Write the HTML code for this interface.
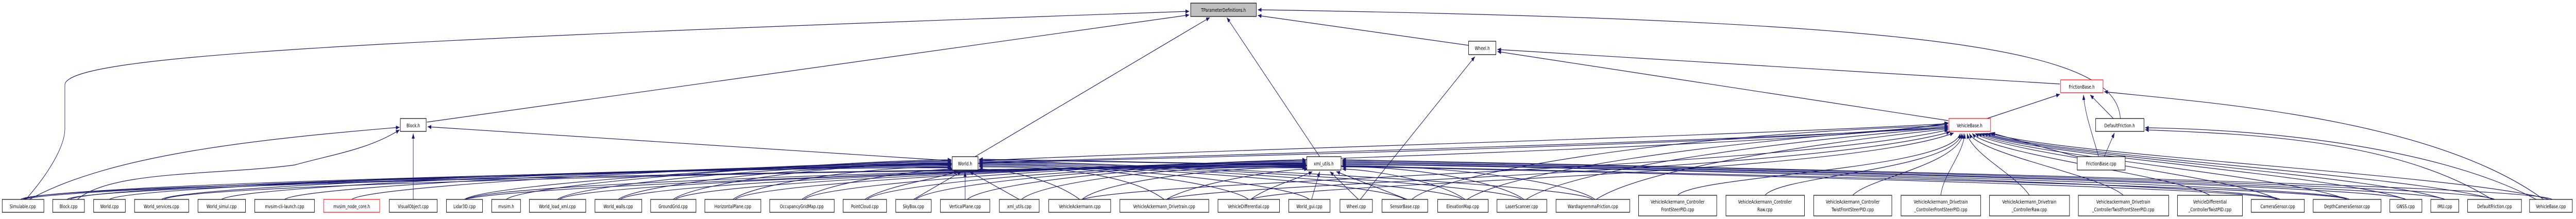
<!DOCTYPE html>
<html><head><meta charset="utf-8"><style>
html,body{margin:0;padding:0;background:#fff;width:100%;height:100%;overflow:hidden}
svg{display:block;overflow:hidden;width:100vw;height:100vh}
text{font-family:"DejaVu Sans","Liberation Sans",sans-serif;font-size:10px;fill:#000;text-anchor:middle}
.e{fill:none;stroke:#191970;stroke-width:1.2;marker-end:url(#a)}
.n{fill:#fff;stroke:#000;stroke-width:1.2}
.r{fill:#fff;stroke:#f00;stroke-width:1.2}
</style></head><body>
<svg viewBox="0 0 6988 425" preserveAspectRatio="none" xmlns="http://www.w3.org/2000/svg">
<defs><marker id="a" markerUnits="userSpaceOnUse" markerWidth="12" markerHeight="10" refX="10" refY="4" orient="auto"><path d="M0 0L10 4L0 8z" fill="#191970"/></marker></defs>
<g>
<path class="e" d="M70 387C140 330 176 280 176 250L176 165C176 110 900 80 3226 22"/>
<path class="e" d="M1158 237L3226 29"/>
<path class="e" d="M2645 304L3282 34"/>
<path class="e" d="M3580 304L3328 34"/>
<path class="e" d="M3984 88L3412 30"/>
<path class="e" d="M5752 230C5740 100 5300 40 3412 19"/>
<path class="e" d="M2581 312L1160 246"/>
<path class="e" d="M80 387C300 300 700 270 1084 247"/>
<path class="e" d="M210 387C300 330 600 340 800 320C900 300 1000 290 1084 252"/>
<path class="e" d="M1121 387L1121 259"/>
<path class="e" d="M3690 387L4001 110"/>
<path class="e" d="M5588 163L4062 96"/>
<path class="e" d="M5285 234L4062 100"/>
<path class="e" d="M5390 230L5588 183"/>
<path class="e" d="M5733 230L5670 184"/>
<path class="e" d="M5693 304C5680 270 5655 220 5652 184"/>
<path class="e" d="M5708 304L5736 258"/>
<path class="e" d="M5640 305L5402 258"/>
<path class="e" d="M6900 387C6600 230 6000 200 5708 178"/>
<path class="e" d="M6760 387C6500 270 6100 260 5819 252"/>
<path class="e" d="M6880 387C6600 280 6100 250 5819 248"/>
<path class="e" d="M5285 240C4500 270 3300 290 2656 312"/>
<path class="e" d="M5285 248C4500 280 3300 300 2656 316"/>
<path class="e" d="M62 387C122 355 2281 322 2581 326"/>
<path class="e" d="M190 387C250 355 2281 320 2581 324"/>
<path class="e" d="M297 387C357 355 2281 318 2581 322"/>
<path class="e" d="M438 387C498 355 2281 318 2581 320"/>
<path class="e" d="M601 387C661 355 2281 316 2581 318"/>
<path class="e" d="M772 387C832 355 2281 316 2581 316"/>
<path class="e" d="M954 387C1014 355 2281 314 2581 314"/>
<path class="e" d="M1260 387C1320 355 2281 314 2581 312"/>
<path class="e" d="M1373 387C1433 355 2281 312 2581 310"/>
<path class="e" d="M1512 387C1572 355 2281 312 2581 321"/>
<path class="e" d="M1677 387C1737 355 2281 316 2581 319"/>
<path class="e" d="M1826 387C1886 355 2281 316 2581 317"/>
<path class="e" d="M1988 387C2048 355 2381 320 2581 325"/>
<path class="e" d="M2175 387C2235 355 2481 330 2585 328"/>
<path class="e" d="M2346 387C2400 360 2560 345 2598 332"/>
<path class="e" d="M2478 387L2608 333"/>
<path class="e" d="M2618 387L2618 333"/>
<path class="e" d="M2765 387L2630 333"/>
<path class="e" d="M2929 387C2869 355 2755 330 2656 328"/>
<path class="e" d="M3158 387C3098 355 2955 322 2656 324"/>
<path class="e" d="M3387 387C3327 355 2955 320 2656 322"/>
<path class="e" d="M3552 387C3492 355 2955 318 2656 320"/>
<path class="e" d="M3811 387C3751 355 2955 318 2656 318"/>
<path class="e" d="M3968 387C3908 355 2955 316 2656 316"/>
<path class="e" d="M4128 387C4068 355 2955 314 2656 314"/>
<path class="e" d="M4321 387C4261 355 2955 314 2656 312"/>
<path class="e" d="M6179 387C6119 355 2955 312 2656 310"/>
<path class="e" d="M6367 387C6307 355 2955 312 2656 309"/>
<path class="e" d="M56 387C116 350 3243 322 3543 326"/>
<path class="e" d="M182 387C242 350 3243 320 3543 324"/>
<path class="e" d="M445 387C505 350 3243 320 3543 322"/>
<path class="e" d="M1265 387C1325 350 3243 318 3543 320"/>
<path class="e" d="M1518 387C1578 350 3243 318 3543 318"/>
<path class="e" d="M1683 387C1743 350 3243 316 3543 316"/>
<path class="e" d="M1832 387C1892 350 3243 316 3543 314"/>
<path class="e" d="M1994 387C2054 350 3243 314 3543 312"/>
<path class="e" d="M2181 387C2241 350 3243 314 3543 310"/>
<path class="e" d="M2352 387C2412 350 3243 312 3543 321"/>
<path class="e" d="M2484 387C2544 350 3243 314 3543 319"/>
<path class="e" d="M2624 387C2684 350 3243 316 3543 317"/>
<path class="e" d="M2771 387C2831 350 3243 318 3543 323"/>
<path class="e" d="M2935 387C2995 350 3343 322 3543 325"/>
<path class="e" d="M3164 387C3224 360 3443 330 3548 328"/>
<path class="e" d="M3393 387C3430 365 3530 345 3560 333"/>
<path class="e" d="M3558 387L3580 333"/>
<path class="e" d="M3685 387L3608 333"/>
<path class="e" d="M3817 387L3625 333"/>
<path class="e" d="M3974 387C3914 355 3740 330 3641 328"/>
<path class="e" d="M4134 387C4074 355 3840 322 3641 324"/>
<path class="e" d="M4327 387C4267 355 3940 320 3641 322"/>
<path class="e" d="M6185 387C6125 355 3940 318 3641 320"/>
<path class="e" d="M6373 387C6313 355 3940 318 3641 318"/>
<path class="e" d="M6526 387C6466 355 3940 316 3641 316"/>
<path class="e" d="M6632 387C6572 355 3940 316 3641 314"/>
<path class="e" d="M6767 387C6707 355 3940 314 3641 312"/>
<path class="e" d="M6923 387C6863 355 3940 314 3641 310"/>
<path class="e" d="M3830 387C3900 340 4500 260 5285 244"/>
<path class="e" d="M3980 387C4100 330 4700 270 5285 246"/>
<path class="e" d="M4140 387C4260 330 4800 275 5285 248"/>
<path class="e" d="M4330 387C4450 330 4900 280 5285 250"/>
<path class="e" d="M2935 387C3100 350 4800 330 5285 252"/>
<path class="e" d="M3164 387C3300 355 4900 335 5290 256"/>
<path class="e" d="M3393 387C3500 355 5000 340 5300 258"/>
<path class="e" d="M4551 379C4600 340 5290 330 5318 259"/>
<path class="e" d="M4788 379C4830 340 5300 330 5322 259"/>
<path class="e" d="M5026 379C5070 345 5310 320 5326 259"/>
<path class="e" d="M5265 379C5270 340 5325 300 5330 259"/>
<path class="e" d="M5505 379C5470 340 5350 300 5336 259"/>
<path class="e" d="M5760 379C5700 340 5370 300 5342 259"/>
<path class="e" d="M5995 379C5900 340 5400 300 5350 259"/>
<path class="e" d="M6179 387C6050 340 5450 300 5358 259"/>
<path class="e" d="M6367 387C6200 340 5470 300 5366 259"/>
<path class="e" d="M6526 387C6350 340 5500 300 5374 259"/>
<path class="e" d="M6632 387C6450 340 5520 300 5382 259"/>
<path class="e" d="M6767 387C6550 340 5540 300 5390 259"/>
<path class="e" d="M6915 387C6700 340 5560 300 5398 258"/>
<path class="e" d="M62 387C300 340 4800 300 5285 240"/>
<path class="e" d="M1260 387C1500 340 4900 300 5285 238"/>
</g>
<g>
<rect x="3230" y="6" width="178" height="26" fill="#bfbfbf" stroke="#000" stroke-width="1.2"/><text x="3319" y="23">TParameterDefinitions.h</text>
<rect class="n" x="1086" y="230" width="70" height="25"/><text x="1121" y="247">Block.h</text>
<rect class="n" x="2583" y="304" width="70" height="26"/><text x="2618" y="321">World.h</text>
<rect class="n" x="3545" y="304" width="93" height="26"/><text x="3591" y="321">xml_utils.h</text>
<rect class="n" x="3984" y="80" width="74" height="26"/><text x="4021" y="97">Wheel.h</text>
<rect class="r" x="5287" y="230" width="113" height="25"/><text x="5343" y="247">VehicleBase.h</text>
<rect class="r" x="5590" y="155" width="115" height="25"/><text x="5647" y="172">FrictionBase.h</text>
<rect class="n" x="5685" y="230" width="131" height="25"/><text x="5750" y="247">DefaultFriction.h</text>
<rect class="n" x="5635" y="304" width="130" height="26"/><text x="5700" y="321">FrictionBase.cpp</text>
<rect class="n" x="6" y="387" width="113" height="25"/><text x="62" y="404">Simulable.cpp</text>
<rect class="n" x="143" y="387" width="86" height="25"/><text x="186" y="404">Block.cpp</text>
<rect class="n" x="254" y="387" width="86" height="25"/><text x="297" y="404">World.cpp</text>
<rect class="n" x="365" y="387" width="147" height="25"/><text x="438" y="404">World_services.cpp</text>
<rect class="n" x="537" y="387" width="129" height="25"/><text x="601" y="404">World_simul.cpp</text>
<rect class="n" x="691" y="387" width="162" height="25"/><text x="772" y="404">mvsim-cli-launch.cpp</text>
<rect class="r" x="878" y="387" width="152" height="25"/><text x="954" y="404">mvsim_node_core.h</text>
<rect class="n" x="1056" y="387" width="130" height="25"/><text x="1121" y="404">VisualObject.cpp</text>
<rect class="n" x="1211" y="387" width="98" height="25"/><text x="1260" y="404">Lidar3D.cpp</text>
<rect class="n" x="1334" y="387" width="78" height="25"/><text x="1373" y="404">mvsim.h</text>
<rect class="n" x="1436" y="387" width="153" height="25"/><text x="1512" y="404">World_load_xml.cpp</text>
<rect class="n" x="1614" y="387" width="127" height="25"/><text x="1677" y="404">World_walls.cpp</text>
<rect class="n" x="1765" y="387" width="123" height="25"/><text x="1826" y="404">GroundGrid.cpp</text>
<rect class="n" x="1912" y="387" width="152" height="25"/><text x="1988" y="404">HorizontalPlane.cpp</text>
<rect class="n" x="2088" y="387" width="175" height="25"/><text x="2175" y="404">OccupancyGridMap.cpp</text>
<rect class="n" x="2287" y="387" width="118" height="25"/><text x="2346" y="404">PointCloud.cpp</text>
<rect class="n" x="2430" y="387" width="96" height="25"/><text x="2478" y="404">SkyBox.cpp</text>
<rect class="n" x="2551" y="387" width="134" height="25"/><text x="2618" y="404">VerticalPlane.cpp</text>
<rect class="n" x="2711" y="387" width="108" height="25"/><text x="2765" y="404">xml_utils.cpp</text>
<rect class="n" x="2845" y="387" width="168" height="25"/><text x="2929" y="404">VehicleAckermann.cpp</text>
<rect class="n" x="3038" y="387" width="241" height="25"/><text x="3158" y="404">VehicleAckermann_Drivetrain.cpp</text>
<rect class="n" x="3304" y="387" width="167" height="25"/><text x="3387" y="404">VehicleDifferential.cpp</text>
<rect class="n" x="3496" y="387" width="112" height="25"/><text x="3552" y="404">World_gui.cpp</text>
<rect class="n" x="3635" y="387" width="88" height="25"/><text x="3679" y="404">Wheel.cpp</text>
<rect class="n" x="3749" y="387" width="124" height="25"/><text x="3811" y="404">SensorBase.cpp</text>
<rect class="n" x="3900" y="387" width="137" height="25"/><text x="3968" y="404">ElevationMap.cpp</text>
<rect class="n" x="4061" y="387" width="135" height="25"/><text x="4128" y="404">LaserScanner.cpp</text>
<rect class="n" x="4221" y="387" width="200" height="25"/><text x="4321" y="404">WardIagnemmaFriction.cpp</text>
<rect class="n" x="4445" y="379" width="212" height="40"/><text x="4551" y="395">VehicleAckermann_Controller</text><text x="4551" y="410">FrontSteerPID.cpp</text>
<rect class="n" x="4682" y="379" width="213" height="40"/><text x="4788" y="395">VehicleAckermann_Controller</text><text x="4788" y="410">Raw.cpp</text>
<rect class="n" x="4920" y="379" width="212" height="40"/><text x="5026" y="395">VehicleAckermann_Controller</text><text x="5026" y="410">TwistFrontSteerPID.cpp</text>
<rect class="n" x="5157" y="379" width="216" height="40"/><text x="5265" y="395">VehicleAckermann_Drivetrain</text><text x="5265" y="410">_ControllerFrontSteerPID.cpp</text>
<rect class="n" x="5397" y="379" width="217" height="40"/><text x="5505" y="395">VehicleAckermann_Drivetrain</text><text x="5505" y="410">_ControllerRaw.cpp</text>
<rect class="n" x="5638" y="379" width="245" height="40"/><text x="5760" y="395">Vehicleackermann_Drivetrain</text><text x="5760" y="410">_ControllerTwistFrontSteerPID.cpp</text>
<rect class="n" x="5907" y="379" width="176" height="40"/><text x="5995" y="395">VehicleDifferential</text><text x="5995" y="410">_ControllerTwistPID.cpp</text>
<rect class="n" x="6107" y="387" width="144" height="25"/><text x="6179" y="404">CameraSensor.cpp</text>
<rect class="n" x="6275" y="387" width="184" height="25"/><text x="6367" y="404">DepthCameraSensor.cpp</text>
<rect class="n" x="6483" y="387" width="87" height="25"/><text x="6526" y="404">GNSS.cpp</text>
<rect class="n" x="6594" y="387" width="76" height="25"/><text x="6632" y="404">IMU.cpp</text>
<rect class="n" x="6694" y="387" width="146" height="25"/><text x="6767" y="404">DefaultFriction.cpp</text>
<rect class="n" x="6862" y="387" width="116" height="25"/><text x="6920" y="404">VehicleBase.cpp</text>
</g>
</svg>
</body></html>
